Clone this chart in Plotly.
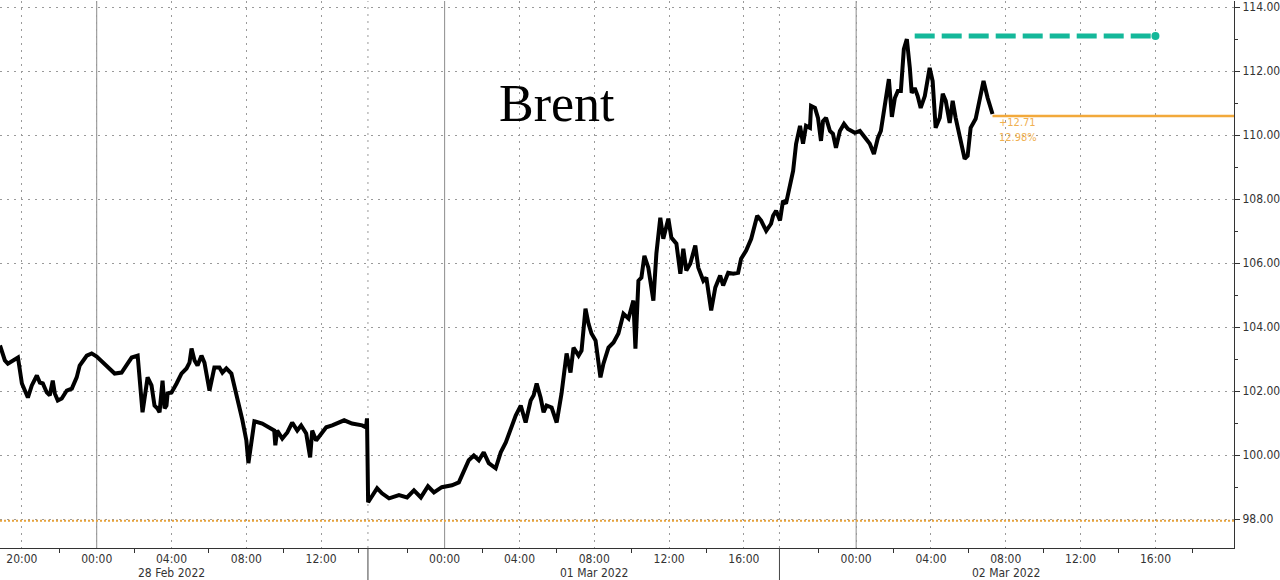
import plotly.graph_objects as go

# ---- data (x = trading-time hours from 28 Feb 2022 00:00 on the compressed axis) ----
t_hours = [-5.17, -4.91, -4.75, -4.21, -4.0, -3.73, -3.68, -3.47, -3.2, -3.04, -2.88, -2.67, -2.51,
           -2.35, -2.24, -2.08, -1.87, -1.6, -1.33, -1.07, -0.91, -0.64, -0.53, -0.27, 0.0, 0.96,
           1.33, 1.65, 1.87, 2.19, 2.29, 2.45, 2.72, 2.93, 3.09, 3.25, 3.36, 3.47, 3.52, 3.63, 3.73,
           3.79, 4.0, 4.27, 4.53, 4.8, 4.96, 5.07, 5.23, 5.39, 5.6, 5.76, 6.03, 6.29, 6.56, 6.72,
           6.93, 7.2, 7.47, 7.63, 7.79, 8.0, 8.11, 8.27, 8.43, 8.85, 9.49, 9.55, 9.65, 9.92, 10.19,
           10.45, 10.72, 10.93, 11.2, 11.41, 11.52, 11.73, 12.0, 12.27, 12.59, 13.23, 13.65, 14.19,
           14.4, 14.45, 14.51, 14.72, 14.99, 15.25, 15.63, 16.16, 16.59, 16.96, 17.33, 17.71, 18.03,
           18.45, 18.99, 19.36, 19.63, 19.89, 20.16, 20.43, 20.69, 20.96, 21.33, 21.6, 21.87, 22.13,
           22.4, 22.67, 22.93, 23.2, 23.36, 23.52, 23.73, 23.89, 24.05, 24.32, 24.59, 24.85, 25.12,
           25.33, 25.49, 25.76, 25.92, 26.13, 26.29, 26.45, 26.67, 26.93, 27.09, 27.36, 27.63, 27.89,
           28.16, 28.43, 28.69, 28.8, 28.96, 29.12, 29.28, 29.49, 29.76, 29.92, 30.13, 30.29, 30.56,
           30.72, 30.99, 31.2, 31.36, 31.52, 31.73, 32.0, 32.16, 32.43, 32.59, 32.85, 33.07, 33.33,
           33.49, 33.76, 34.03, 34.29, 34.45, 34.72, 34.99, 35.31, 35.52, 35.79, 36.05, 36.16, 36.32,
           36.53, 36.69, 36.85, 37.07, 37.23, 37.39, 37.6, 37.76, 37.92, 38.13, 38.19, 38.4, 38.56,
           38.72, 38.83, 38.99, 39.2, 39.36, 39.52, 39.73, 39.95, 40.16, 40.53, 40.8, 41.07, 41.33,
           41.55, 41.76, 41.92, 42.13, 42.35, 42.51, 42.67, 42.83, 42.99, 43.15, 43.31, 43.47, 43.57,
           43.73, 43.89, 44.05, 44.27, 44.53, 44.69, 44.85, 45.07, 45.23, 45.39, 45.6, 45.76, 45.92,
           46.19, 46.4, 46.56, 46.72, 46.99, 47.2, 47.41, 47.63, 47.89]
price = [103.43, 102.96, 102.86, 103.05, 102.24, 101.87, 101.8, 102.18, 102.49, 102.27, 102.24,
         101.96, 101.87, 102.33, 101.93, 101.71, 101.77, 102.02, 102.08, 102.43, 102.8, 103.02,
         103.11, 103.18, 103.08, 102.55, 102.58, 102.86, 103.05, 103.11, 102.33, 101.34, 102.43,
         102.18, 101.55, 101.46, 101.34, 102.12, 102.33, 101.46, 101.55, 101.93, 101.96, 102.24,
         102.55, 102.71, 102.89, 103.33, 102.96, 102.8, 103.11, 102.89, 102.02, 102.74, 102.74,
         102.58, 102.71, 102.55, 101.8, 101.49, 101.09, 100.46, 99.75, 100.46, 101.06, 100.99,
         100.77, 100.31, 100.77, 100.52, 100.71, 101.02, 100.77, 100.93, 100.68, 99.93, 100.77,
         100.46, 100.68, 100.87, 100.93, 101.09, 100.99, 100.93, 100.87, 101.15, 98.53, 98.75,
         98.97, 98.81, 98.65, 98.75, 98.68, 98.9, 98.68, 99.03, 98.84, 99.0, 99.06, 99.15, 99.47,
         99.84, 99.99, 99.84, 100.09, 99.75, 99.59, 100.09, 100.4, 100.84, 101.24, 101.55, 101.02,
         101.71, 101.87, 102.24, 101.8, 101.34, 101.55, 101.49, 101.02, 101.93, 103.18, 102.58,
         103.36, 103.11, 103.27, 104.58, 104.11, 103.8, 103.58, 102.43, 102.86, 103.36, 103.52,
         103.8, 104.42, 104.27, 104.83, 103.33, 105.45, 105.55, 106.23, 105.86, 104.83, 106.3,
         107.42, 106.76, 107.39, 106.8, 106.61, 105.67, 106.45, 105.77, 105.98, 106.55, 105.86,
         105.45, 105.55, 104.52, 105.24, 105.61, 105.3, 105.7, 105.67, 105.7, 106.14, 106.39,
         106.76, 107.48, 107.33, 107.01, 107.23, 107.48, 107.64, 107.33, 107.95, 107.86, 108.48,
         108.88, 109.73, 110.29, 109.73, 110.29, 110.23, 110.91, 110.85, 110.54, 109.82, 110.44,
         110.54, 110.13, 110.04, 109.6, 110.13, 110.35, 110.19, 110.07, 110.13, 109.91, 109.73,
         109.41, 109.91, 110.13, 111.0, 111.75, 110.57, 111.16, 111.38, 111.38, 112.69, 113.0,
         112.1, 111.32, 111.47, 111.22, 110.85, 111.22, 112.1, 111.69, 110.23, 110.54, 111.29,
         111.07, 110.38, 111.07, 110.54, 109.82, 109.26, 109.35, 110.23, 110.51, 111.16, 111.69,
         111.16, 110.66]

tick_pos = [-4, 0, 4, 8, 12, 18.6, 22.6, 26.6, 30.6, 34.6, 40.6, 44.6, 48.6, 52.6, 56.6]
tick_text = ["20:00", "00:00", "04:00", "08:00", "12:00", "00:00", "04:00", "08:00", "12:00",
             "16:00", "00:00", "04:00", "08:00", "12:00", "16:00"]
minor_pos = [-2, 2, 6, 10, 14, 16.6, 20.6, 24.6, 28.6, 32.6, 38.6, 42.6, 46.6, 50.6, 54.6, 58.6]
day_start_pos = [0, 18.6, 40.6]
session_break_pos = [14.5, 36.5]
date_labels = ["28 Feb 2022", "01 Mar 2022", "02 Mar 2022"]
date_label_pos = [4, 26.6, 48.6]

y_ticks = [98, 100, 102, 104, 106, 108, 110, 112, 114]
last_price = 110.6
period_low = 97.95
change_labels = ["+12.71", "12.98%"]
high_marker_x = [43.73, 56.6]
high_marker_y = [113.1, 113.1]

x_range = [-5.17, 60.8]
y_range = [97.1, 114.19]

GRID = "#9a9a9a"
FONT = "DejaVu Sans Condensed, sans-serif"
fig = go.Figure()

# period low (dotted orange)
fig.add_trace(go.Scatter(x=x_range, y=[period_low, period_low], mode="lines",
                         line=dict(color="#e6a23c", width=2, dash="2px,2px"),
                         hoverinfo="skip", showlegend=False))
# last price line
fig.add_trace(go.Scatter(x=[t_hours[-1], x_range[1]], y=[last_price, last_price], mode="lines",
                         line=dict(color="#f2a93b", width=2.5), hoverinfo="skip", showlegend=False))
# price
fig.add_trace(go.Scatter(x=t_hours, y=price, mode="lines",
                         line=dict(color="#000000", width=4), showlegend=False))
# teal dashed high marker
fig.add_trace(go.Scatter(x=high_marker_x, y=high_marker_y, mode="lines",
                         line=dict(color="#14b89a", width=5, dash="20px,7px"),
                         hoverinfo="skip", showlegend=False))
fig.add_trace(go.Scatter(x=[high_marker_x[-1]], y=[high_marker_y[-1]], mode="markers",
                         marker=dict(color="#14b89a", size=8), hoverinfo="skip", showlegend=False))

shapes = []
for p in day_start_pos:
    shapes.append(dict(type="line", xref="x", yref="paper", x0=p, x1=p, y0=0, y1=1,
                       line=dict(color="#8c8c8c", width=1), layer="below"))
for p in session_break_pos:
    shapes.append(dict(type="line", xref="x", yref="paper", x0=p, x1=p, y0=0, y1=1,
                       line=dict(color=GRID, width=1, dash="2px,5px"), layer="below"))
    shapes.append(dict(type="line", xref="x", yref="paper", x0=p, x1=p, y0=-0.06, y1=0,
                       line=dict(color="#444444", width=1)))

annotations = [dict(text="Brent", x=24.6, y=111.0, xref="x", yref="y", showarrow=False,
                    font=dict(family="Liberation Serif, Times New Roman, serif", size=52, color="#000"))]
for lbl, pos in zip(date_labels, date_label_pos):
    annotations.append(dict(text=lbl, x=pos, y=0, xref="x", yref="paper", yanchor="top",
                            yshift=-16, showarrow=False,
                            font=dict(family=FONT, size=12, color="#333")))
annotations.append(dict(text=change_labels[0], x=48.15, y=110.38, xref="x", yref="y", xanchor="left",
                        showarrow=False, font=dict(family=FONT, size=11, color="#f0b050")))
annotations.append(dict(text=change_labels[1], x=48.15, y=109.91, xref="x", yref="y", xanchor="left",
                        showarrow=False, font=dict(family=FONT, size=11, color="#f0b050")))

fig.update_layout(
    width=1280, height=580, autosize=False,
    margin=dict(l=0, r=43, t=0, b=32),
    plot_bgcolor="white", paper_bgcolor="white",
    shapes=shapes, annotations=annotations,
    xaxis=dict(range=x_range, tickmode="array", tickvals=tick_pos, ticktext=tick_text,
               showgrid=True, gridcolor=GRID, griddash="2px,5px", gridwidth=1,
               zeroline=False, showline=True, linecolor="#333", linewidth=1,
               ticks="", tickfont=dict(family=FONT, size=12, color="#333"),
               minor=dict(tickmode="array", tickvals=minor_pos, ticks="outside", ticklen=4,
                          tickcolor="#333", showgrid=False)),
    yaxis=dict(range=y_range, side="right", tickmode="array", tickvals=y_ticks,
               tickformat=".2f", showgrid=True, gridcolor=GRID, griddash="2px,5px", gridwidth=1,
               zeroline=False, showline=True, linecolor="#333", linewidth=1,
               ticks="outside", ticklen=5, tickcolor="#333", ticklabeloverflow="allow",
               tickfont=dict(family=FONT, size=12, color="#333"),
               minor=dict(dtick=1, ticks="outside", ticklen=3, tickcolor="#333", showgrid=False)),
)

fig.write_html("out.html", config={"displayModeBar": False},
               post_script="document.body.style.margin='0';document.body.style.overflow='hidden';")
